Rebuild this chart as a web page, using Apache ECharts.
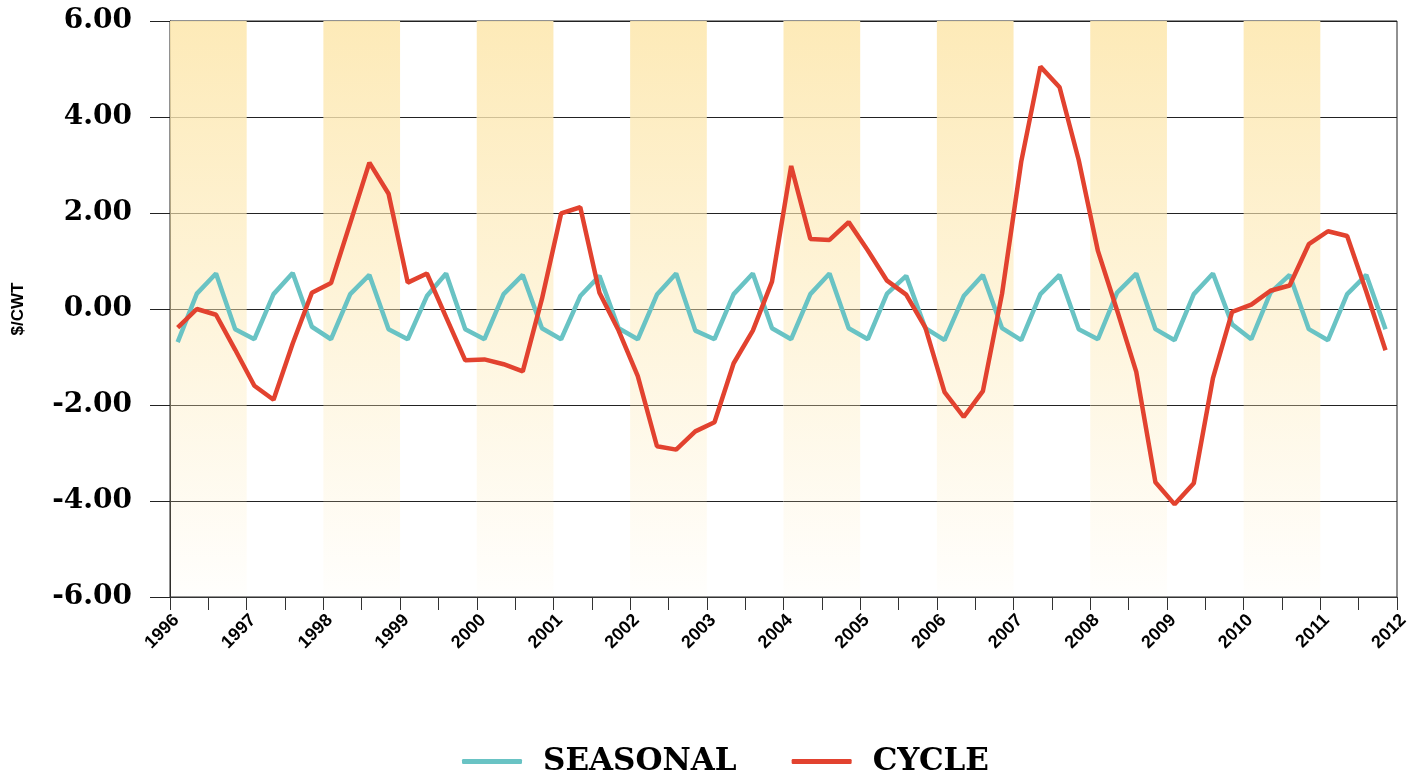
<!DOCTYPE html>
<html>
<head>
<meta charset="utf-8">
<script src="https://cdn.jsdelivr.net/npm/echarts@6/dist/echarts.min.js"></script>
<style>
  html, body { margin: 0; padding: 0; background: #fff; }
  #chart { width: 1424px; height: 774px; }
</style>
</head>
<body>
<div id="chart"></div>
<script>
// quarterly points, 1996 Q1 .. 2011 Q4
const years = [1996, 1997, 1998, 1999, 2000, 2001, 2002, 2003, 2004, 2005, 2006, 2007, 2008, 2009, 2010, 2011]
const quarterPos = [0.1, 0.35, 0.6, 0.85]

const seasonal = [
  -0.69, 0.32, 0.74, -0.42, -0.63, 0.31, 0.75, -0.37, -0.63, 0.31, 0.71, -0.42, -0.63, 0.27, 0.74, -0.42,
  -0.63, 0.31, 0.71, -0.40, -0.63, 0.27, 0.69, -0.40, -0.63, 0.30, 0.74, -0.45, -0.63, 0.31, 0.74, -0.40,
  -0.63, 0.31, 0.74, -0.40, -0.63, 0.32, 0.69, -0.40, -0.65, 0.27, 0.71, -0.40, -0.65, 0.31, 0.71, -0.42,
  -0.63, 0.34, 0.74, -0.42, -0.65, 0.31, 0.74, -0.32, -0.63, 0.34, 0.71, -0.42, -0.65, 0.31, 0.71, -0.42
]

const cycle = [
  -0.39, 0.00, -0.12, -0.85, -1.60, -1.89, -0.72, 0.34, 0.54, 1.79, 3.05, 2.40, 0.55, 0.74, -0.17, -1.07,
  -1.05, -1.15, -1.30, 0.21, 1.99, 2.12, 0.34, -0.45, -1.40, -2.86, -2.93, -2.55, -2.36, -1.13, -0.45, 0.57,
  2.98, 1.46, 1.44, 1.81, 1.22, 0.59, 0.30, -0.39, -1.73, -2.25, -1.71, 0.32, 3.07, 5.05, 4.62, 3.10,
  1.21, -0.03, -1.31, -3.61, -4.07, -3.63, -1.44, -0.06, 0.09, 0.38, 0.49, 1.35, 1.62, 1.52, 0.36, -0.86
]

// shaded years
const bandYears = [1996, 1998, 2000, 2002, 2004, 2006, 2008, 2010]

const xs = []
years.forEach(y => quarterPos.forEach(q => xs.push(y + q)))

const chart = echarts.init(document.getElementById('chart'))

const bandColor = new echarts.graphic.LinearGradient(0, 0, 0, 1, [
  { offset: 0, color: 'rgba(253, 233, 180, 0.95)' },
  { offset: 1, color: 'rgba(253, 233, 180, 0.03)' }
])

const serif = '"DejaVu Serif", "Liberation Serif", serif'
const sans = '"Liberation Sans", Arial, sans-serif'

chart.setOption({
  animation: false,
  backgroundColor: '#fff',
  grid: {
    left: 170,
    right: 27,
    top: 21,
    bottom: 177,
    show: true,
    borderColor: '#222',
    borderWidth: 1
  },
  legend: {
    bottom: -3,
    left: 462,
    padding: 0,
    itemGap: 55,
    itemWidth: 60,
    itemHeight: 5,
    icon: 'roundRect',
    textStyle: {
      fontFamily: serif,
      fontWeight: 'bold',
      fontSize: 31,
      color: '#000',
      padding: [0, 0, 0, 16]
    },
    data: ['SEASONAL', 'CYCLE']
  },
  xAxis: {
    type: 'value',
    min: 1996,
    max: 2012,
    interval: 0.5,
    axisLine: { show: true, onZero: false, lineStyle: { color: '#333', width: 1 } },
    axisTick: { show: true, length: 13, lineStyle: { color: '#333' } },
    splitLine: { show: false },
    axisLabel: {
      rotate: 45,
      margin: 14,
      verticalAlign: 'top',
      fontFamily: sans,
      fontWeight: 'bold',
      fontSize: 18,
      color: '#000',
      formatter: v => (v % 1 === 0 ? String(v) : '')
    }
  },
  yAxis: {
    type: 'value',
    min: -6,
    max: 6,
    interval: 2,
    name: '$/CWT',
    nameLocation: 'middle',
    nameRotate: 90,
    nameGap: 143,
    nameTextStyle: {
      fontFamily: sans,
      fontWeight: 'bold',
      fontSize: 17,
      color: '#000'
    },
    axisLine: { show: true, lineStyle: { color: '#222', width: 1 } },
    axisTick: { show: true, length: 20, lineStyle: { color: '#222' } },
    splitLine: { show: true, lineStyle: { color: '#222', width: 1 } },
    axisLabel: {
      margin: 38,
      fontFamily: serif,
      fontWeight: 'bold',
      fontSize: 28,
      color: '#000',
      formatter: v => v.toFixed(2)
    }
  },
  series: [
    {
      name: 'SEASONAL',
      type: 'line',
      symbol: 'none',
      data: xs.map((x, i) => [x, seasonal[i]]),
      lineStyle: { width: 4.5, color: '#69C3C4' },
      itemStyle: { color: '#69C3C4' },
      markArea: {
        silent: true,
        itemStyle: { color: bandColor },
        data: bandYears.map(y => [{ xAxis: y }, { xAxis: y + 1 }])
      },
      z: 2
    },
    {
      name: 'CYCLE',
      type: 'line',
      symbol: 'none',
      data: xs.map((x, i) => [x, cycle[i]]),
      lineStyle: { width: 4.5, color: '#E2422F' },
      itemStyle: { color: '#E2422F' },
      z: 3
    }
  ]
})

window.addEventListener('resize', () => chart.resize())
</script>
</body>
</html>
